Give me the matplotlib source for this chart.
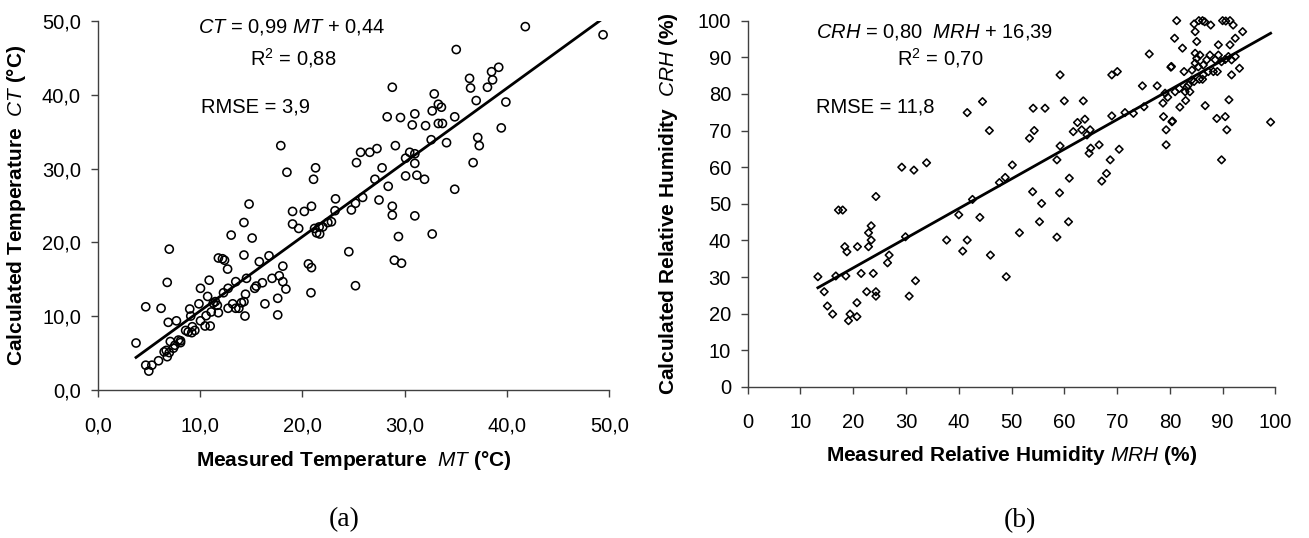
import matplotlib
matplotlib.use("Agg")
import matplotlib.pyplot as plt
import numpy as np

# (a) measured vs calculated temperature, degC
mt = [3.75, 4.7, 5.0, 5.3, 5.95, 4.7, 6.2, 6.8, 7.0, 6.9, 7.7, 6.5, 6.7, 6.8, 7.0,
      7.1, 7.4, 7.55, 7.9, 8.1, 8.1, 8.6, 8.85, 9.2, 9.5, 9.25, 9.0, 9.1, 9.9, 10.05,
      10.05, 10.9, 10.5, 11.0, 10.75, 10.6, 11.1, 11.3, 11.7, 11.8, 11.5, 12.3, 12.7,
      11.8, 12.2, 12.4, 12.75, 12.75, 13.2, 13.5, 13.8, 14.05, 14.3, 14.45, 13.5, 14.55,
      14.3, 14.4, 13.05, 14.3, 14.8, 15.1, 15.35, 15.5, 16.1, 16.35, 15.8, 16.75, 17.05,
      17.6, 17.6, 17.75, 18.1, 18.1, 18.4, 18.5, 17.9, 19.05, 19.05, 19.65, 20.2, 20.9,
      21.1, 21.3, 20.6, 20.9, 20.85, 21.2, 21.4, 21.7, 21.65, 22.0, 22.5, 22.85, 23.2,
      23.25, 24.55, 25.2, 24.8, 25.2, 25.9, 27.1, 27.5, 41.8, 49.4, 35.05, 28.8, 36.35,
      36.45, 38.5, 39.2, 38.6, 38.1, 37.0, 39.9, 39.45, 32.9, 32.7, 33.3, 33.6, 33.3,
      33.7, 34.9, 31.0, 30.75, 32.05, 29.6, 28.3, 32.6, 34.1, 37.15, 37.3, 36.7, 34.9,
      29.1, 27.3, 26.6, 25.7, 25.3, 30.5, 31.0, 30.1, 31.0, 27.8, 28.4, 30.1, 31.2,
      31.95, 28.8, 28.8, 31.0, 29.4, 32.7, 29.0, 29.7]
ct = [6.4, 3.4, 2.6, 3.4, 4.0, 11.3, 11.1, 14.6, 19.1, 9.2, 9.4, 5.2, 5.4, 4.55, 5.1,
      6.6, 5.7, 6.1, 6.8, 6.45, 6.7, 8.1, 7.9, 7.8, 8.1, 8.6, 11.0, 10.05, 11.7, 9.4,
      13.8, 14.9, 8.7, 8.7, 12.7, 10.1, 10.6, 11.8, 11.5, 10.5, 12.0, 13.2, 16.4,
      17.9, 17.8, 17.6, 13.8, 11.1, 11.7, 11.1, 11.1, 11.85, 12.0, 13.0, 14.7, 15.15,
      18.3, 10.05, 21.0, 22.7, 25.2, 20.6, 13.8, 14.1, 14.55, 11.7, 17.4, 18.2, 15.15,
      12.45, 10.2, 15.5, 16.8, 14.7, 13.7, 29.5, 33.1, 24.2, 22.5, 21.9, 24.2, 24.9,
      28.55, 30.1, 17.1, 16.6, 13.2, 21.9, 21.3, 21.15, 22.1, 22.1, 22.7, 22.8, 24.3,
      25.9, 18.75, 14.15, 24.4, 25.3, 26.1, 28.55, 25.75, 49.2, 48.1, 46.1, 41.0, 42.2,
      40.9, 43.1, 43.7, 42.0, 41.0, 39.2, 39.0, 35.5, 40.1, 37.8, 38.7, 38.3, 36.1,
      36.1, 37.0, 37.4, 35.9, 35.8, 36.9, 37.0, 33.9, 33.5, 34.2, 33.1, 30.8, 27.2,
      33.1, 32.7, 32.2, 32.2, 30.8, 32.2, 32.0, 31.4, 30.7, 30.1, 27.6, 29.0, 29.1,
      28.55, 24.9, 23.7, 23.6, 20.8, 21.15, 17.6, 17.2]

# (b) measured vs calculated relative humidity, %
mrh = [13.3, 14.5, 15.1, 16.1, 16.7, 18.6, 17.2, 18.0, 18.4, 18.8, 20.8, 19.4, 19.1,
       20.7, 20.7, 21.5, 22.55, 23.8, 24.3, 24.3, 22.9, 23.4, 22.9, 23.4, 24.3, 26.5,
       26.8, 29.2, 31.5, 33.9, 29.9, 31.8, 30.6, 37.7, 40.0, 41.6, 40.75, 42.6, 44.0,
       46.0, 49.0, 41.6, 44.5, 45.8, 47.7, 48.8, 50.15, 51.5, 54.0, 55.7, 55.3, 53.4,
       54.3, 54.1, 56.35, 59.2, 60.0, 63.6, 69.0, 70.05, 76.1, 81.3, 59.2, 58.6, 60.95,
       59.1, 60.8, 58.6, 62.5, 63.9, 61.7, 63.3, 64.9, 64.3, 66.6, 65.0, 64.7, 68.7,
       70.4, 68.0, 67.1, 69.0, 71.5, 73.1, 75.1, 74.8, 77.6, 78.7, 78.8, 79.3, 79.3,
       80.4, 80.5, 79.6, 80.2, 80.3, 81.0, 81.8, 82.9, 83.2, 83.8, 81.9, 83.0, 83.5,
       84.15, 84.6, 85.6, 86.2, 82.7, 84.2, 84.8, 85.1, 85.7, 85.4, 86.35, 87.0, 87.6,
       88.25, 87.3, 88.6, 89.2, 89.8, 90.5, 91.1, 91.7, 92.4, 93.2, 91.7, 91.2, 90.5,
       90.8, 89.8, 88.9, 86.7, 86.35, 99.1, 84.6, 85.5, 86.2, 86.6, 84.8, 85.1, 87.75,
       90.0, 90.6, 91.4, 92.0, 92.4, 91.4, 93.8, 80.9, 82.4, 89.2, 84.8, 89.0, 79.1]
crh = [30.1, 26.0, 22.1, 19.9, 30.3, 30.3, 48.3, 48.3, 38.3, 36.9, 38.3, 19.9, 18.1,
       19.2, 23.0, 31.0, 26.0, 31.0, 26.0, 24.8, 38.3, 40.1, 42.1, 44.0, 52.0, 33.9,
       36.0, 60.0, 59.2, 61.2, 41.0, 29.0, 24.8, 40.1, 47.0, 40.1, 37.1, 51.2, 46.3,
       36.0, 30.1, 74.9, 77.9, 70.0, 55.8, 57.2, 60.6, 42.1, 53.3, 50.1, 45.1, 67.9,
       70.0, 76.1, 76.1, 85.2, 78.1, 78.1, 85.2, 86.1, 90.9, 100.0, 65.8, 62.0, 57.0,
       53.0, 45.1, 40.9, 72.2, 73.1, 69.7, 70.2, 70.2, 68.8, 66.1, 65.2, 63.8, 62.0,
       64.9, 58.3, 56.2, 74.0, 74.9, 74.7, 76.5, 82.2, 82.2, 77.5, 73.8, 70.2, 66.1,
       72.4, 72.6, 79.1, 87.3, 87.5, 80.6, 81.5, 80.6, 81.8, 80.6, 76.4, 78.2, 82.4,
       83.8, 83.4, 84.0, 84.0, 86.1, 86.5, 88.4, 89.7, 90.6, 87.4, 87.9, 89.3, 90.6,
       86.1, 86.1, 89.3, 90.6, 88.8, 89.4, 90.2, 89.3, 90.2, 87.0, 85.2, 78.4, 73.8,
       70.2, 62.0, 73.3, 76.8, 85.2, 72.3, 99.1, 100.0, 100.0, 99.7, 97.0, 94.3, 98.8,
       100.0, 99.9, 100.0, 98.8, 95.2, 93.4, 97.0, 95.2, 92.5, 93.4, 91.1, 86.1, 80.2]

t_ticks = [0, 10, 20, 30, 40, 50]
t_labels = ["0,0", "10,0", "20,0", "30,0", "40,0", "50,0"]
rh_ticks = [0, 10, 20, 30, 40, 50, 60, 70, 80, 90, 100]
rh_labels = ["0", "10", "20", "30", "40", "50", "60", "70", "80", "90", "100"]

plt.rcParams.update({
    "font.family": "Liberation Sans",
    "mathtext.fontset": "custom",
    "mathtext.rm": "Liberation Sans",
    "mathtext.it": "Liberation Sans:italic",
    "mathtext.bf": "Liberation Sans:bold",
})

AX_COL = "#404040"
FS = 14.5


def style(ax, ticks, labels):
    for s in ("top", "right"):
        ax.spines[s].set_visible(False)
    for s in ("left", "bottom"):
        ax.spines[s].set_color(AX_COL)
        ax.spines[s].set_linewidth(1.0)
    ax.set_xticks(ticks)
    ax.set_xticklabels(labels)
    ax.set_yticks(ticks)
    ax.set_yticklabels(labels)
    ax.set_xlim(ticks[0], ticks[-1])
    ax.set_ylim(ticks[0], ticks[-1])
    ax.tick_params(direction="out", length=5, width=1, color=AX_COL,
                   labelsize=FS, labelcolor="black")
    ax.tick_params(axis="x", pad=14)
    ax.tick_params(axis="y", pad=7)


fig = plt.figure(figsize=(13.09, 5.38), dpi=100)
ax1 = fig.add_axes([0.0746, 0.2745, 0.3908, 0.687])
ax2 = fig.add_axes([0.5712, 0.2807, 0.4031, 0.6809])

# ---- (a) temperature
style(ax1, t_ticks, t_labels)
ax1.scatter(mt, ct, s=34, facecolors="none", edgecolors="black",
            linewidths=1.15, clip_on=False, zorder=3)
k, b = np.polyfit(mt, ct, 1)
xl = np.array([min(mt), t_ticks[-1]])
ax1.plot(xl, k * xl + b, color="black", lw=2.0, zorder=4)

ax1.text(9.8, 49.2, r"$\mathit{CT}$ = 0,99 $\mathit{MT}$ + 0,44",
         fontsize=FS, va="center", ha="left")
ax1.text(14.9, 44.9, r"R$^{2}$ = 0,88", fontsize=FS, va="center", ha="left")
ax1.text(10.1, 38.3, "RMSE = 3,9", fontsize=FS, va="center", ha="left")

ax1.set_xlabel(r"Measured Temperature  $\mathit{MT}$ (°C)",
               fontsize=15, fontweight="bold")
ax1.set_ylabel(r"Calculated Temperature  $\mathit{CT}$ (°C)",
               fontsize=15, fontweight="bold")
ax1.xaxis.set_label_coords(0.5, -0.189)
ax1.xaxis.label.set_va("center")
ax1.yaxis.set_label_coords(-0.158, 0.5)
ax1.yaxis.label.set_va("center")

# ---- (b) relative humidity
style(ax2, rh_ticks, rh_labels)
ax2.scatter(mrh, crh, s=15, marker="D", facecolors="none", edgecolors="black",
            linewidths=1.15, clip_on=False, zorder=3)
k2, b2 = np.polyfit(mrh, crh, 1)
xl2 = np.array([min(mrh), max(mrh)])
ax2.plot(xl2, k2 * xl2 + b2, color="black", lw=2.0, zorder=4)

ax2.text(12.9, 97.0, r"$\mathit{CRH}$ = 0,80  $\mathit{MRH}$ + 16,39",
         fontsize=FS, va="center", ha="left")
ax2.text(28.2, 89.8, r"R$^{2}$ = 0,70", fontsize=FS, va="center", ha="left")
ax2.text(12.9, 76.4, "RMSE = 11,8", fontsize=FS, va="center", ha="left")

ax2.set_xlabel(r"Measured Relative Humidity $\mathit{MRH}$ (%)",
               fontsize=15, fontweight="bold")
ax2.set_ylabel(r"Calculated Relative Humidity  $\mathit{CRH}$ (%)",
               fontsize=15, fontweight="bold")
ax2.xaxis.set_label_coords(0.5, -0.188)
ax2.xaxis.label.set_va("center")
ax2.yaxis.set_label_coords(-0.151, 0.5)
ax2.yaxis.label.set_va("center")

# panel captions
fig.text(344 / 1309, 1 - 520 / 538, "(a)", fontsize=20, family="Liberation Serif",
         ha="center", va="center")
fig.text(1020 / 1309, 1 - 521 / 538, "(b)", fontsize=20, family="Liberation Serif",
         ha="center", va="center")

fig.savefig("out.png", dpi=100)
